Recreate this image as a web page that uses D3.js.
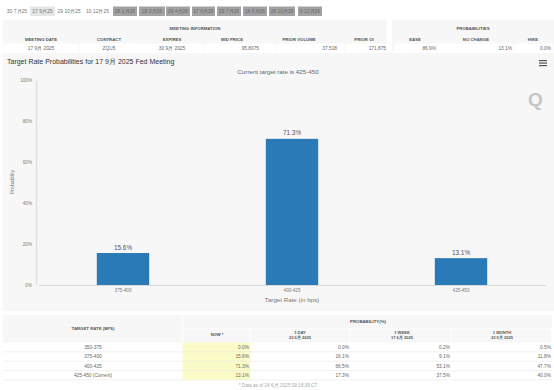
<!DOCTYPE html>
<html>
<head>
<meta charset="utf-8">
<script src="https://cdn.jsdelivr.net/npm/d3@7"></script>
<style>
  html, body { margin: 0; padding: 0; background: #fff; }
  svg { display: block; font-family: "Liberation Sans", Arial, sans-serif; }
</style>
</head>
<body>
<div id="chart"></div>
<script>
// meeting tabs
var tabLabels = ["30 7月25", "17 9月25", "29 10月25", "10 12月25", "28 1月26", "18 3月26", "29 4月26", "17 6月26", "29 7月26", "16 9月26", "28 10月26", "9 12月26"];
var tabLeft = [5, 30, 56, 84, 113, 139, 166, 192, 217, 243, 269, 298];
var tabRight = [29, 55, 82, 111, 137, 165, 190, 215, 241, 267, 295, 322];

// top tables
var meetingHeads = ["MEETING DATE", "CONTRACT", "EXPIRES", "MID PRICE", "PRIOR VOLUME", "PRIOR OI"];
var meetingVals = ["17 9月 2025", "ZQU5", "30 9月 2025", "95.8075", "37,518", "171,875"];
var probHeads = ["EASE", "NO CHANGE", "HIKE"];
var probVals = ["86.9%", "13.1%", "0.0%"];

// bars
var rateBins = ["375-400", "400-425", "425-450"];
var barValues = [15.6, 71.3, 13.1];
var yTicks = [0, 20, 40, 60, 80, 100];

// bottom table
var rowLabels = ["350-375", "375-400", "400-425", "425-450 (Current)"];
var nowVals = ["0.0%", "15.6%", "71.3%", "13.1%"];
var dayVals = ["0.0%", "16.1%", "66.5%", "17.3%"];
var weekVals = ["0.2%", "9.1%", "53.1%", "37.5%"];
var monthVals = ["0.5%", "11.8%", "47.7%", "40.0%"];

var svg = d3.select("#chart").append("svg")
  .attr("width", 554)
  .attr("height", 390);

function label(x, y, str, size, color, anchor, weight) {
  return svg.append("text")
    .attr("x", x).attr("y", y)
    .attr("font-size", size)
    .attr("fill", color)
    .attr("text-anchor", anchor || "middle")
    .attr("font-weight", weight || "normal")
    .text(str);
}

function box(x, y, w, h, fill) {
  return svg.append("rect").attr("x", x).attr("y", y).attr("width", w).attr("height", h).attr("fill", fill);
}

// tabs
tabLabels.forEach(function(d, i) {
  var fill = i === 1 ? "#e6e6e6" : (i > 3 ? "#a3a3a3" : "#fff");
  box(tabLeft[i], 6.5, tabRight[i] - tabLeft[i], 9.5, fill);
  label((tabLeft[i] + tabRight[i]) / 2, 13.2, d, 5, i > 3 ? "#666" : "#777");
});

// top left table
box(3, 20, 384, 32, "#f7f7f7");
label(195, 29.5, "MEETING INFORMATION", 4.3, "#555", "middle", "bold");
var meetingX = [3, 79, 144, 205, 277, 345, 387];
var headCx = [41, 109, 172, 232, 299, 364];
meetingHeads.forEach(function(d, i) {
  label(headCx[i], 40.5, d, 4.3, "#555", "middle", "bold");
  box(meetingX[i] + 0.5, 43.5, meetingX[i + 1] - meetingX[i] - 1, 9, "#fff");
});
var valEnd = [0, 0, 0, 259, 337, 386];
meetingVals.forEach(function(d, i) {
  if (i < 3) label(headCx[i], 49.7, d, 4.8, "#666");
  else label(valEnd[i], 49.7, d, 4.8, "#666", "end");
});

// top right table
box(392, 20, 162, 32, "#f7f7f7");
label(473, 29.5, "PROBABILITIES", 4.3, "#555", "middle", "bold");
var probX = [394, 437, 514, 554];
var probCx = [415, 476, 533];
var probEnd = [436, 512, 551];
probHeads.forEach(function(d, i) {
  label(probCx[i], 40.5, d, 4.3, "#555", "middle", "bold");
  box(probX[i] + 0.5, 43.5, probX[i + 1] - probX[i] - 1, 9, "#fff");
  label(probEnd[i], 49.7, probVals[i], 4.8, "#666", "end");
});

// chart panel
box(3, 53, 551, 258, "#f7f7f7");
label(7, 64, "Target Rate Probabilities for 17 9月 2025 Fed Meeting", 7, "#333", "start");
label(278, 74, "Current target rate is 425-450", 6.2, "#666");

// menu icon
[60, 62.5, 65].forEach(function(d) { box(539, d, 8, 1.2, "#555"); });

// watermark
label(535.5, 106, "Q", 19, "#c3c7c7", "middle", "bold");

var x = d3.scaleBand().domain(rateBins).range([38.5, 545.5]).paddingInner(0.69).paddingOuter(0.345);
var y = d3.scaleLinear().domain([0, 100]).range([285, 80]);

var yAxis = svg.append("g")
  .attr("transform", "translate(36,0)")
  .call(d3.axisLeft(y).tickValues(yTicks).tickFormat(function(d) { return d + "%"; }).tickSize(0).tickPadding(4));
yAxis.select(".domain").attr("stroke", "#e0e0e0").attr("stroke-width", 1.5);
yAxis.selectAll("text").attr("font-size", 4.6).attr("fill", "#777").attr("font-family", "Liberation Sans");

var xAxis = svg.append("g")
  .attr("transform", "translate(0,285)")
  .call(d3.axisBottom(x).tickSize(0).tickPadding(4));
xAxis.select(".domain").attr("stroke", "#d8d8d8").attr("stroke-width", 1);
xAxis.selectAll("text").attr("font-size", 4.6).attr("fill", "#777").attr("font-family", "Liberation Sans");

svg.append("g").selectAll("rect")
  .data(barValues)
  .enter()
  .append("rect")
    .attr("x", function(d, i) { return x(rateBins[i]); })
    .attr("y", function(d) { return y(d); })
    .attr("width", x.bandwidth())
    .attr("height", function(d) { return y(0) - y(d); })
    .attr("fill", "#2a7ab8");

svg.append("g").selectAll("text")
  .data(barValues)
  .enter()
  .append("text")
    .attr("x", function(d, i) { return x(rateBins[i]) + x.bandwidth() / 2; })
    .attr("y", function(d) { return y(d) - 3.5; })
    .attr("text-anchor", "middle")
    .attr("font-size", 6.4)
    .attr("fill", "#555")
    .text(function(d) { return d.toFixed(1) + "%"; });

label(292, 302, "Target Rate (in bps)", 6.2, "#777");
label(12, 182, "Probability", 5.2, "#777").attr("transform", "rotate(-90 12 182)").attr("y", 184);

// bottom table
box(3, 315, 179, 27.5, "#f7f7f7");
box(183, 315, 369, 13.5, "#f7f7f7");
var colX = [183, 250.5, 350.5, 451.5, 552];
colX.slice(0, 4).forEach(function(d, i) {
  box(d, 329.5, colX[i + 1] - d - 1, 13, "#f7f7f7");
});
label(93, 329.7, "TARGET RATE (BPS)", 4.3, "#555", "middle", "bold");
label(368, 322.5, "PROBABILITY(%)", 4.3, "#555", "middle", "bold");
label(217, 335.6, "NOW *", 4.1, "#555", "middle", "bold");
var compHeads = [["1 DAY", "23 6月 2025"], ["1 WEEK", "17 6月 2025"], ["1 MONTH", "23 5月 2025"]];
var compCx = [300, 402, 502];
compHeads.forEach(function(d, i) {
  label(compCx[i], 333.5, d[0], 4.1, "#555", "middle", "bold");
  label(compCx[i], 339, d[1], 4.1, "#555", "middle", "bold");
});
box(182.5, 342.5, 68, 37.5, "#fbfbc8");
var rowY = d3.scaleBand().domain(rowLabels).range([342.5, 380]);
rowLabels.forEach(function(d, i) {
  var ty = rowY(d) + 6.4;
  label(93, ty, d, 4.8, "#666");
  label(249, ty, nowVals[i], 4.8, "#666", "end");
  label(349, ty, dayVals[i], 4.8, "#666", "end");
  label(450, ty, weekVals[i], 4.8, "#666", "end");
  label(551, ty, monthVals[i], 4.8, "#666", "end");
  svg.append("line")
    .attr("x1", 3).attr("x2", 552)
    .attr("y1", rowY(d) + rowY.bandwidth()).attr("y2", rowY(d) + rowY.bandwidth())
    .attr("stroke", "#e8e8e8").attr("stroke-width", 0.6);
});
label(278, 386.5, "* Data as of 24 6月 2025 09:18:39 CT", 4.7, "#aaa");
</script>
</body>
</html>
